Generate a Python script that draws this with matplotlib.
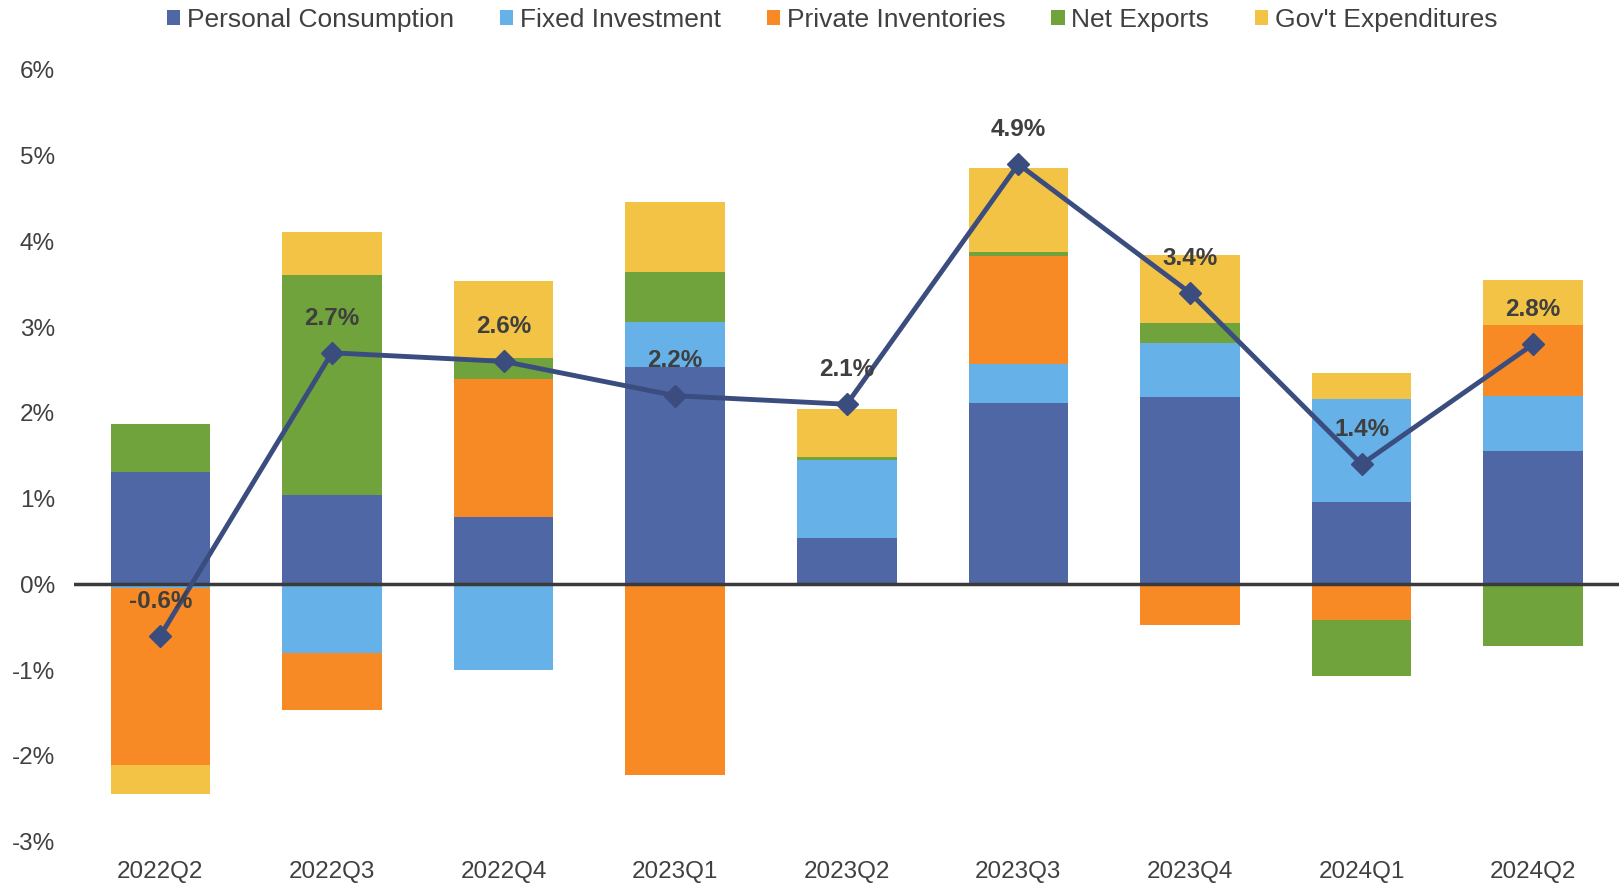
import matplotlib.pyplot as plt
import numpy as np
from matplotlib.patches import Patch

plt.rcParams['font.family'] = ['Liberation Sans', 'DejaVu Sans']

# Veriler (yüzde puan katkıları)
ceyrekler = ['2022Q2', '2022Q3', '2022Q4', '2023Q1', '2023Q2',
             '2023Q3', '2023Q4', '2024Q1', '2024Q2']
kisisel_tuketim = [1.31, 1.04, 0.78, 2.53, 0.54, 2.11, 2.19, 0.96, 1.55]
sabit_yatirim = [-0.04, -0.80, -1.00, 0.53, 0.91, 0.46, 0.62, 1.20, 0.65]
ozel_stoklar = [-2.07, -0.66, 1.61, -2.22, 0.00, 1.26, -0.47, -0.42, 0.82]
net_ihracat = [0.56, 2.57, 0.25, 0.58, 0.03, 0.05, 0.24, -0.65, -0.72]
kamu_harcama = [-0.34, 0.50, 0.90, 0.82, 0.57, 0.98, 0.79, 0.31, 0.53]
gsyh = [-0.6, 2.7, 2.6, 2.2, 2.1, 4.9, 3.4, 1.4, 2.8]

seriler = [
    ('Personal Consumption', kisisel_tuketim, '#4F67A5'),
    ('Fixed Investment', sabit_yatirim, '#66B1E8'),
    ('Private Inventories', ozel_stoklar, '#F78A25'),
    ('Net Exports', net_ihracat, '#71A33C'),
    ("Gov't Expenditures", kamu_harcama, '#F2C344'),
]

x = np.arange(len(ceyrekler))
fig = plt.figure(figsize=(16.19, 8.84), dpi=100)
ax = fig.add_axes([0.046, 0.048, 0.954, 0.873])

pozitif = np.zeros(len(x))
negatif = np.zeros(len(x))
for ad, degerler, renk in seriler:
    d = np.array(degerler, dtype=float)
    alt = np.where(d >= 0, pozitif, negatif)
    ax.bar(x, d, bottom=alt, width=0.58, color=renk, zorder=2)
    pozitif = pozitif + np.where(d > 0, d, 0)
    negatif = negatif + np.where(d < 0, d, 0)

ax.axhline(0, color='#3A3A3A', linewidth=2.5, zorder=3)

ax.plot(x, gsyh, color='#3B4C7E', linewidth=3.5, marker='D',
        markersize=11, zorder=4)
for xi, yi in zip(x, gsyh):
    ax.annotate(f'{yi:.1f}%', (xi, yi), xytext=(0, 25),
                textcoords='offset points', ha='center', va='center',
                fontsize=17.5, fontweight='bold', color='#3F3F3F', zorder=5)

ax.set_xlim(-0.5, 8.5)
ax.set_ylim(-3, 6)
ax.set_xticks(x)
ax.set_xticklabels(ceyrekler)
ax.set_yticks(range(-3, 7))
ax.set_yticklabels([f'{v}%' for v in range(-3, 7)])
ax.tick_params(length=0, labelsize=17.5, labelcolor='#404040')
ax.tick_params(axis='y', pad=14)
ax.tick_params(axis='x', pad=14)
for s in ax.spines.values():
    s.set_visible(False)

tutamaclar = [Patch(facecolor=renk, label=ad) for ad, _, renk in seriler]
fig.legend(handles=tutamaclar, loc='upper center', bbox_to_anchor=(0.514, 1.018),
           ncol=5, frameon=False, fontsize=19, handlelength=0.5,
           handleheight=0.5, handletextpad=0.25, columnspacing=1.75,
           labelcolor='#404040')

fig.savefig('out.png', dpi=100)
